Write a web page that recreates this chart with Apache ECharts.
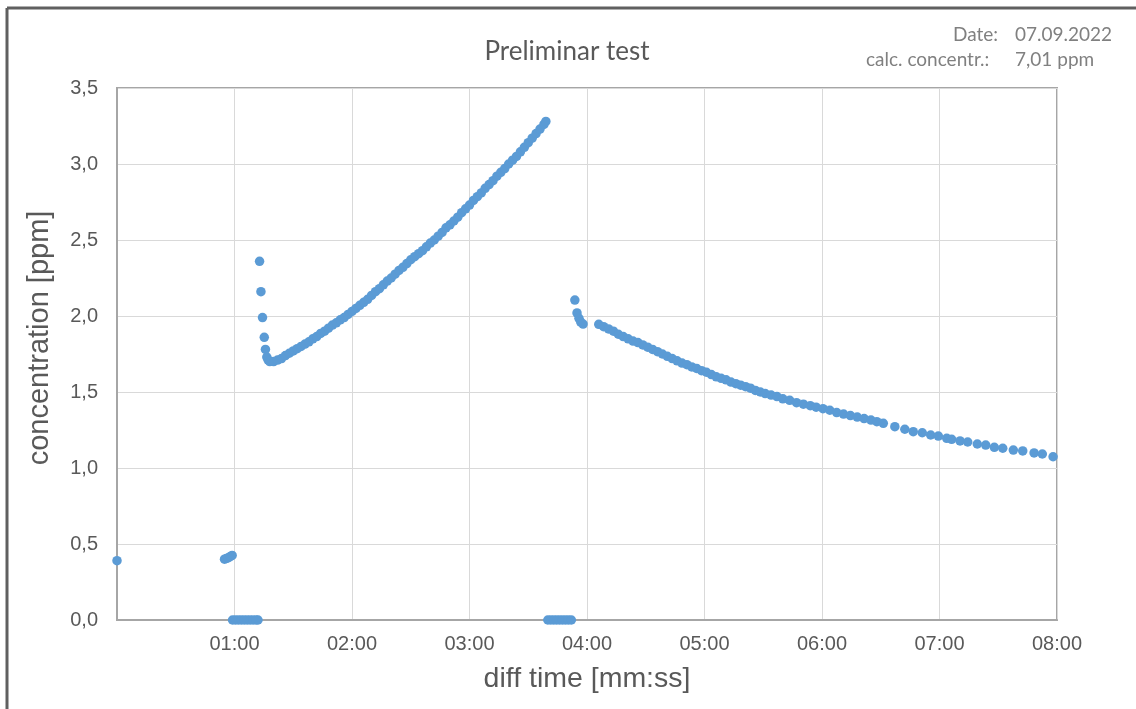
<!DOCTYPE html>
<html>
<head>
<meta charset="utf-8">
<script src="https://cdn.jsdelivr.net/npm/echarts@6/dist/echarts.min.js"></script>
<style>html,body{margin:0;padding:0;background:#fff;}#c{width:1136px;height:709px;}</style>
</head>
<body>
<div id="c"></div>
<script>
// time in seconds, concentration in ppm
const startTimes = [0, 54.9, 55.9, 56.9, 57.9, 58.8];
const startValues = [0.39, 0.40, 0.405, 0.41, 0.418, 0.425];

const zeroTimes = [59, 60.5, 62, 63.5, 65, 66.5, 68, 69.5, 71, 72, 220, 221.5, 223, 224.5, 226, 227.5, 229, 230.5, 232];
const zeroValues = [0, 0, 0, 0, 0, 0, 0, 0, 0, 0, 0, 0, 0, 0, 0, 0, 0, 0, 0];

const spikeTimes = [72.8, 73.5, 74.3, 75.2, 75.8, 76.5, 77.2];
const spikeValues = [2.36, 2.16, 1.99, 1.86, 1.78, 1.73, 1.71];

const riseTimes = [78, 80, 82, 84, 86, 88, 90, 92, 94, 96, 98, 100, 102, 104, 106, 108, 110, 112, 114, 116, 118, 120, 122, 124, 126, 128, 130, 132, 134, 136, 138, 140, 142, 144, 146, 148, 150, 152, 154, 156, 158, 160, 162, 164, 166, 168, 170, 172, 174, 176, 178, 180, 182, 184, 186, 188, 190, 192, 194, 196, 198, 200, 202, 204, 206, 208, 210, 212, 214, 216, 218, 219];
const riseValues = [1.70, 1.70, 1.71, 1.72, 1.74, 1.755, 1.77, 1.785, 1.80, 1.815, 1.83, 1.85, 1.865, 1.885, 1.90, 1.92, 1.94, 1.955, 1.975, 1.99, 2.01, 2.03, 2.05, 2.07, 2.09, 2.11, 2.135, 2.16, 2.18, 2.205, 2.23, 2.25, 2.275, 2.30, 2.32, 2.345, 2.37, 2.39, 2.41, 2.43, 2.455, 2.48, 2.50, 2.525, 2.55, 2.58, 2.60, 2.625, 2.65, 2.68, 2.705, 2.73, 2.76, 2.785, 2.81, 2.84, 2.865, 2.89, 2.92, 2.945, 2.97, 3.00, 3.025, 3.05, 3.08, 3.11, 3.14, 3.17, 3.20, 3.23, 3.26, 3.28];

const jumpTimes = [233.8, 234.9, 235.9, 236.8, 238];
const jumpValues = [2.105, 2.02, 1.985, 1.96, 1.947];

const decayTimes = [246, 248.5, 251, 253.5, 256, 258.5, 261, 263.5, 266, 268.5, 271, 273.5, 276, 278.5, 281, 283.5, 286, 288.5, 291, 293.5, 296, 298.5, 301, 303.5, 306, 308.5, 311, 313.5, 316, 318.5, 321, 323.5, 326, 328.5, 331, 334, 337, 340, 343.5, 347, 350.5, 354, 357, 360.5, 364, 367.5, 371, 374.5, 378, 381.5, 385, 388, 391.3, 397.2, 402.3, 406.6, 411.2, 415.5, 419.4, 423.7, 426.2, 430.5, 434.4, 439.3, 443.6, 448, 452.3, 457.7, 462.5, 468.3, 472.5, 478];
const decayValues = [1.945, 1.93, 1.915, 1.90, 1.88, 1.865, 1.85, 1.835, 1.825, 1.81, 1.795, 1.78, 1.765, 1.75, 1.735, 1.72, 1.705, 1.69, 1.68, 1.665, 1.655, 1.64, 1.63, 1.615, 1.60, 1.59, 1.58, 1.565, 1.555, 1.545, 1.535, 1.525, 1.51, 1.50, 1.49, 1.48, 1.47, 1.455, 1.445, 1.43, 1.42, 1.41, 1.40, 1.39, 1.38, 1.365, 1.355, 1.345, 1.335, 1.325, 1.315, 1.305, 1.294, 1.272, 1.255, 1.239, 1.232, 1.217, 1.21, 1.195, 1.189, 1.178, 1.171, 1.158, 1.151, 1.136, 1.13, 1.118, 1.112, 1.099, 1.092, 1.074];

const xTickLabels = ['', '01:00', '02:00', '03:00', '04:00', '05:00', '06:00', '07:00', '08:00'];
const titleText = 'Preliminar test';
const yAxisTitle = 'concentration [ppm]';
const infoLabels = ['Date:', 'calc. concentr.:'];
const infoValues = ['07.09.2022', '7,01 ppm'];

function pairs(ts, vs) { return ts.map((t, i) => [t, vs[i]]); }
const allData = [].concat(
  pairs(startTimes, startValues),
  pairs(zeroTimes, zeroValues),
  pairs(spikeTimes, spikeValues),
  pairs(riseTimes, riseValues),
  pairs(jumpTimes, jumpValues),
  pairs(decayTimes, decayValues)
);

const chart = echarts.init(document.getElementById('c'), null, {renderer: 'canvas'});
const grey = '#595959';
const infoStyle = {fontFamily: 'Lato', fontSize: 19, fill: '#808080', textVerticalAlign: 'middle', textAlign: 'left'};
chart.setOption({
  animation: false,
  backgroundColor: '#ffffff',
  title: {
    text: titleText, left: 562, top: 34, textAlign: 'center',
    textStyle: {fontFamily: 'Lato', fontSize: 26, fontWeight: 'normal', color: grey}
  },
  grid: {left: 117, right: 79, top: 88, bottom: 89, show: true, borderColor: '#a6a6a6', borderWidth: 2},
  xAxis: {
    type: 'value', min: 0, max: 480, interval: 60,
    name: 'diff time [mm:ss]', nameLocation: 'middle', nameGap: 45,
    nameTextStyle: {fontFamily: 'Liberation Sans', fontSize: 28.5, color: grey},
    axisLine: {show: true, lineStyle: {color: '#a6a6a6', width: 2}},
    axisTick: {show: false},
    axisLabel: {
      fontFamily: 'Liberation Sans', fontSize: 20, color: grey, margin: 14,
      formatter: v => xTickLabels[Math.round(v / 60)] || ''
    },
    splitLine: {show: true, lineStyle: {color: '#d9d9d9', width: 1}}
  },
  yAxis: {
    type: 'value', min: 0, max: 3.5, interval: 0.5,
    axisLine: {show: true, lineStyle: {color: '#a6a6a6', width: 2}},
    axisTick: {show: false},
    axisLabel: {
      fontFamily: 'Liberation Sans', fontSize: 20, color: grey, margin: 19,
      formatter: v => v.toFixed(1).replace('.', ',')
    },
    splitLine: {show: true, lineStyle: {color: '#d9d9d9', width: 1}}
  },
  series: [{
    type: 'scatter', data: allData, symbolSize: 9.5,
    itemStyle: {color: '#5b9bd5', opacity: 1}
  }],
  graphic: [
    {type: 'line', shape: {x1: 7, y1: 8, x2: 1136, y2: 8}, style: {stroke: '#606060', lineWidth: 3}},
    {type: 'line', shape: {x1: 7, y1: 8, x2: 7, y2: 709}, style: {stroke: '#606060', lineWidth: 3}},
    {type: 'text', x: 40, y: 338, rotation: Math.PI / 2,
     style: {text: yAxisTitle, fontFamily: 'Liberation Sans', fontSize: 29, fill: grey, textAlign: 'center', textVerticalAlign: 'middle'}},
    {type: 'text', x: 953, y: 35, style: Object.assign({text: infoLabels[0]}, infoStyle)},
    {type: 'text', x: 1015, y: 35, style: Object.assign({text: infoValues[0]}, infoStyle)},
    {type: 'text', x: 866, y: 60, style: Object.assign({text: infoLabels[1]}, infoStyle)},
    {type: 'text', x: 1015, y: 60, style: Object.assign({text: infoValues[1]}, infoStyle)}
  ]
});
</script>
</body>
</html>
